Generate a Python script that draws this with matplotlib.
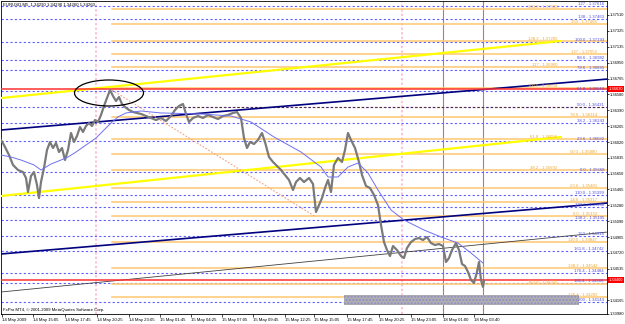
import matplotlib
matplotlib.use("Agg")
import matplotlib.pyplot as plt
from matplotlib.patches import Ellipse, Rectangle

# ---------------- data ----------------
bar_x = [0, 3, 8, 12, 17, 22, 25, 27, 30, 33, 36, 38, 40, 43, 46, 49, 52, 55, 58, 61, 64, 67, 70, 73, 76, 79,
         82, 85, 88, 91, 94, 97, 100, 103, 106, 109, 112, 115, 118, 121, 124, 128, 132, 136, 140, 145, 150, 155,
         160, 165, 170, 174, 178, 182, 185, 188, 192, 197, 202, 207, 212, 217, 222, 227, 232, 236, 240, 243, 246,
         249, 253, 257, 261, 264, 268, 272, 276, 280, 284, 288, 292, 295, 299, 303, 308, 312, 315, 318, 321, 324,
         327, 330, 333, 337, 341, 344, 347, 350, 354, 358, 361, 365, 369, 373, 377, 380, 383, 386, 389, 392, 396,
         400, 403, 406, 410, 414, 418, 422, 426, 430, 434, 438, 442, 445, 448, 451, 455, 458, 461, 464, 467, 470,
         473, 476, 478, 480, 482, 483]
close = [1.36044, 1.35985, 1.35868, 1.35751, 1.35692, 1.35668, 1.35598, 1.35434, 1.35622, 1.35668, 1.35516,
         1.35363, 1.35551, 1.35715, 1.35927, 1.36020, 1.35950, 1.36009, 1.35903, 1.35950, 1.35809, 1.35927,
         1.36126, 1.36020, 1.36091, 1.36196, 1.36138, 1.36208, 1.36243, 1.36208, 1.36278, 1.36255, 1.36337,
         1.36443, 1.36536, 1.36630, 1.36560, 1.36501, 1.36548, 1.36466, 1.36431, 1.36396, 1.36372, 1.36361,
         1.36349, 1.36325, 1.36302, 1.36278, 1.36302, 1.36267, 1.36325, 1.36396, 1.36443, 1.36466, 1.36349,
         1.36255, 1.36302, 1.36325, 1.36302, 1.36337, 1.36314, 1.36290, 1.36325, 1.36337, 1.36361, 1.36372,
         1.36302, 1.36067, 1.35950, 1.36020, 1.35997, 1.36044, 1.36126, 1.36020, 1.35844, 1.35786, 1.35739,
         1.35692, 1.35633, 1.35575, 1.35457, 1.35551, 1.35598, 1.35551, 1.35598, 1.35528, 1.35199, 1.35281,
         1.35363, 1.35481, 1.35575, 1.35434, 1.35751, 1.35833, 1.35786, 1.35927, 1.36126, 1.36044, 1.35950,
         1.35786, 1.35633, 1.35504, 1.35481, 1.35399, 1.35281, 1.35047, 1.34847, 1.34753, 1.34683, 1.34800,
         1.34753, 1.34683, 1.34660, 1.34777, 1.34847, 1.34882, 1.34894, 1.34871, 1.34906, 1.34835, 1.34812,
         1.34824, 1.34800, 1.34613, 1.34660, 1.34753, 1.34835, 1.34753, 1.34589, 1.34566, 1.34496, 1.34402,
         1.34367, 1.34496, 1.34613, 1.34402, 1.34320, 1.34390]

ma_x = [0, 10, 20, 33, 40, 50, 60, 67, 75, 85, 95, 103, 110, 117, 125, 140, 160, 200, 230, 250, 273, 300, 320,
        327, 337, 347, 357, 367, 377, 390, 403, 423, 440, 457, 470, 482]
ma = [1.35868, 1.35844, 1.35809, 1.35751, 1.35692, 1.35762, 1.35809, 1.35844, 1.35903, 1.35985, 1.36067,
      1.36161, 1.36243, 1.36314, 1.36361, 1.36384, 1.36361, 1.36349, 1.36325, 1.36255, 1.36079, 1.35903,
      1.35727, 1.35610, 1.35610, 1.35727, 1.35774, 1.35657, 1.35457, 1.35223, 1.35105, 1.34988, 1.34906,
      1.34835, 1.34718, 1.34601]

# trendlines: (x0, p0, x1, p1)
yellow_lines = [(0, 1.36536, 560, 1.37205), (0, 1.35387, 560, 1.36079)]
navy_lines = [(0, 1.36161, 607, 1.36759), (0, 1.34707, 607, 1.35305)]
thin_line = (0, 1.34261, 607, 1.34965)
fib_trend = (111, 1.36630, 315, 1.35141)

blue_levels = [1.37616, 1.37463, 1.37193, 1.36982, 1.36865, 1.36619, 1.36431, 1.36243, 1.36032, 1.35668,
               1.35399, 1.35258, 1.35105, 1.34918, 1.34742, 1.34484, 1.34366, 1.34144]
blue_names = ['127', '138', '100.0', '88.6', '78.6', '61.8', '50.0', '38.2', '23.6', '0.0',
              '110.0', '123.6', '138.2', '150', '161.8', '176.4', '185.4', '200']
orange_levels = [1.37580, 1.37404, 1.37205, 1.37053, 1.36900, 1.36654, 1.36314, 1.36056, 1.35880, 1.35692,
                 1.35481, 1.35317, 1.35152, 1.34847, 1.34542, 1.34355, 1.34202]
orange_names = ['161.8', '150', '138.2', '127', '117', '100.0', '78.6', '61.8', '50.0', '38.2',
                '23.6', '14.6', '0.0', '110.0', '138.2', '161.8', '176.4']
orange_start = 111
red_levels = [1.36642, 1.34402]
red_labels = ['1.36630', '1.34400']
dark_level = 1.36431
dark_start = 165

pink_vlines = [95, 401]
red_vlines = [442, 482]

ellipse_center = (108, 1.36595)
ellipse_size = (69, 0.00305)
box = (343, 1.34108, 235, 0.00117)

price_ticks = [1.37510, 1.37325, 1.37135, 1.36950, 1.36765, 1.36580, 1.36390, 1.36205, 1.36020, 1.35835,
               1.35650, 1.35465, 1.35280, 1.35090, 1.34905, 1.34720, 1.34535, 1.34165, 1.34003]
price_tick_labels = ['1.37510', '1.37325', '1.37135', '1.36950', '1.36765', '1.36580', '1.36390', '1.36205',
                     '1.36020', '1.35835', '1.35650', '1.35465', '1.35280', '1.35090', '1.34905', '1.34720',
                     '1.34535', '1.34165', '1.33980']
time_pos = [1, 32, 64, 96, 128, 159, 190, 221, 252, 284, 313, 346, 378, 410, 442, 473]
time_labels = ['14 May 2009', '14 May 15:05', '14 May 17:45', '14 May 20:25', '14 May 23:05', '15 May 01:45',
               '15 May 04:25', '15 May 07:05', '15 May 09:45', '15 May 12:25', '15 May 15:05', '15 May 17:45',
               '15 May 20:25', '15 May 23:05', '18 May 01:00', '18 May 03:40']

# ---------------- figure ----------------
plt.rcParams['font.family'] = ['Liberation Sans', 'DejaVu Sans']
W, H = 625, 324
fig = plt.figure(figsize=(W / 100, H / 100), dpi=100)
fig.patch.set_facecolor('white')
ax = fig.add_axes([1 / W, (H - 314) / H, 606 / W, 313 / H])
ax.set_xlim(0, 606)
ax.set_ylim(1.34003, 1.37674)

FS = 3.1
FSY = 2.9

# vertical lines
for xv in pink_vlines:
    ax.axvline(xv, color='#ffb0c8', lw=1.1, ls=(0, (1.5, 1.5)), zorder=1)
for xv in red_vlines:
    ax.axvline(xv, color='#d86a6a', lw=0.8, zorder=1)

# fib levels
for lv, nm in zip(blue_levels, blue_names):
    ax.axhline(lv, color='#5f5fff', lw=0.8, ls=(0, (2, 2)), zorder=2)
    ax.text(603, lv, f'{nm} - {lv:.5f}', color='#5050e0', fontsize=FS, ha='right', va='bottom', zorder=6)
busy = blue_levels + red_levels
for lv, nm in zip(orange_levels, orange_names):
    ax.plot([orange_start, 606], [lv, lv], color='#ffc870', lw=1.1, zorder=2)
    crowded = any(abs(lv - b) < 0.00045 for b in busy)
    ax.text(556 if crowded else 596, lv, f'{nm} - {lv:.5f}', color='#f0a830', fontsize=FS,
            ha='right', va='bottom', zorder=6)
ax.plot([dark_start, 606], [dark_level, dark_level], color='#5a2a2a', lw=0.8, ls=(0, (2, 2)), zorder=3)

# gray box
bx, by, bw, bh = box
ax.add_patch(Rectangle((bx, by), bw, bh, facecolor='#b0b0b0', edgecolor='#8c8cc8', hatch='.....',
                       lw=0, zorder=3))

# trendlines
for x0, p0, x1, p1 in yellow_lines:
    ax.plot([x0, x1], [p0, p1], color='#ffff00', lw=1.6, zorder=4)
for x0, p0, x1, p1 in navy_lines:
    ax.plot([x0, x1], [p0, p1], color='#000080', lw=1.2, zorder=4)
x0, p0, x1, p1 = thin_line
ax.plot([x0, x1], [p0, p1], color='#404040', lw=0.6, zorder=4)
x0, p0, x1, p1 = fib_trend
ax.plot([x0, x1], [p0, p1], color='#f4a080', lw=0.8, ls=(0, (1.5, 1.5)), zorder=4)

# red lines
for lv in red_levels:
    ax.axhline(lv, color='#ff3030', lw=1.1, zorder=4)

# price & MA
ax.plot(bar_x, close, color='#7a7a7a', lw=1.6, zorder=5)
ax.plot(ma_x, ma, color='#6f6ff0', lw=0.7, zorder=5)

# ellipse
ax.add_patch(Ellipse(ellipse_center, ellipse_size[0], ellipse_size[1], fill=False, edgecolor='black',
                     lw=0.9, zorder=6))

# axes styling
for s in ax.spines.values():
    s.set_linewidth(0.6)
    s.set_color('black')
ax.yaxis.tick_right()
ax.set_yticks(price_ticks, price_tick_labels)
ax.set_xticks(time_pos, time_labels)
ax.tick_params(axis='y', length=1.5, width=0.5, pad=0.5, labelsize=FSY, colors='black')
ax.tick_params(axis='x', length=2, width=0.5, pad=1, labelsize=FS, colors='black')
for lbl in ax.get_xticklabels():
    lbl.set_ha('left')

for lv, txt in zip(red_levels, red_labels):
    ax.annotate(txt, xy=(1.0, lv), xycoords=('axes fraction', 'data'), xytext=(1.2, 0),
                textcoords='offset points', fontsize=FSY, color='white', va='center', ha='left',
                bbox=dict(boxstyle='square,pad=0.15', fc='#ff0000', ec='none'), annotation_clip=False, zorder=10)

ax.text(0.004, 0.995, 'EURUSD,M5  1.34290 1.34290 1.34260 1.34260', transform=ax.transAxes,
        fontsize=FS, va='top', ha='left', color='black', zorder=10)
ax.text(0.004, 0.006, 'FxPro MT4, \u00a9 2001-2009 MetaQuotes Software Corp.', transform=ax.transAxes,
        fontsize=FS, va='bottom', ha='left', color='black', zorder=10)

fig.savefig('out.png', dpi=100, facecolor='white')
